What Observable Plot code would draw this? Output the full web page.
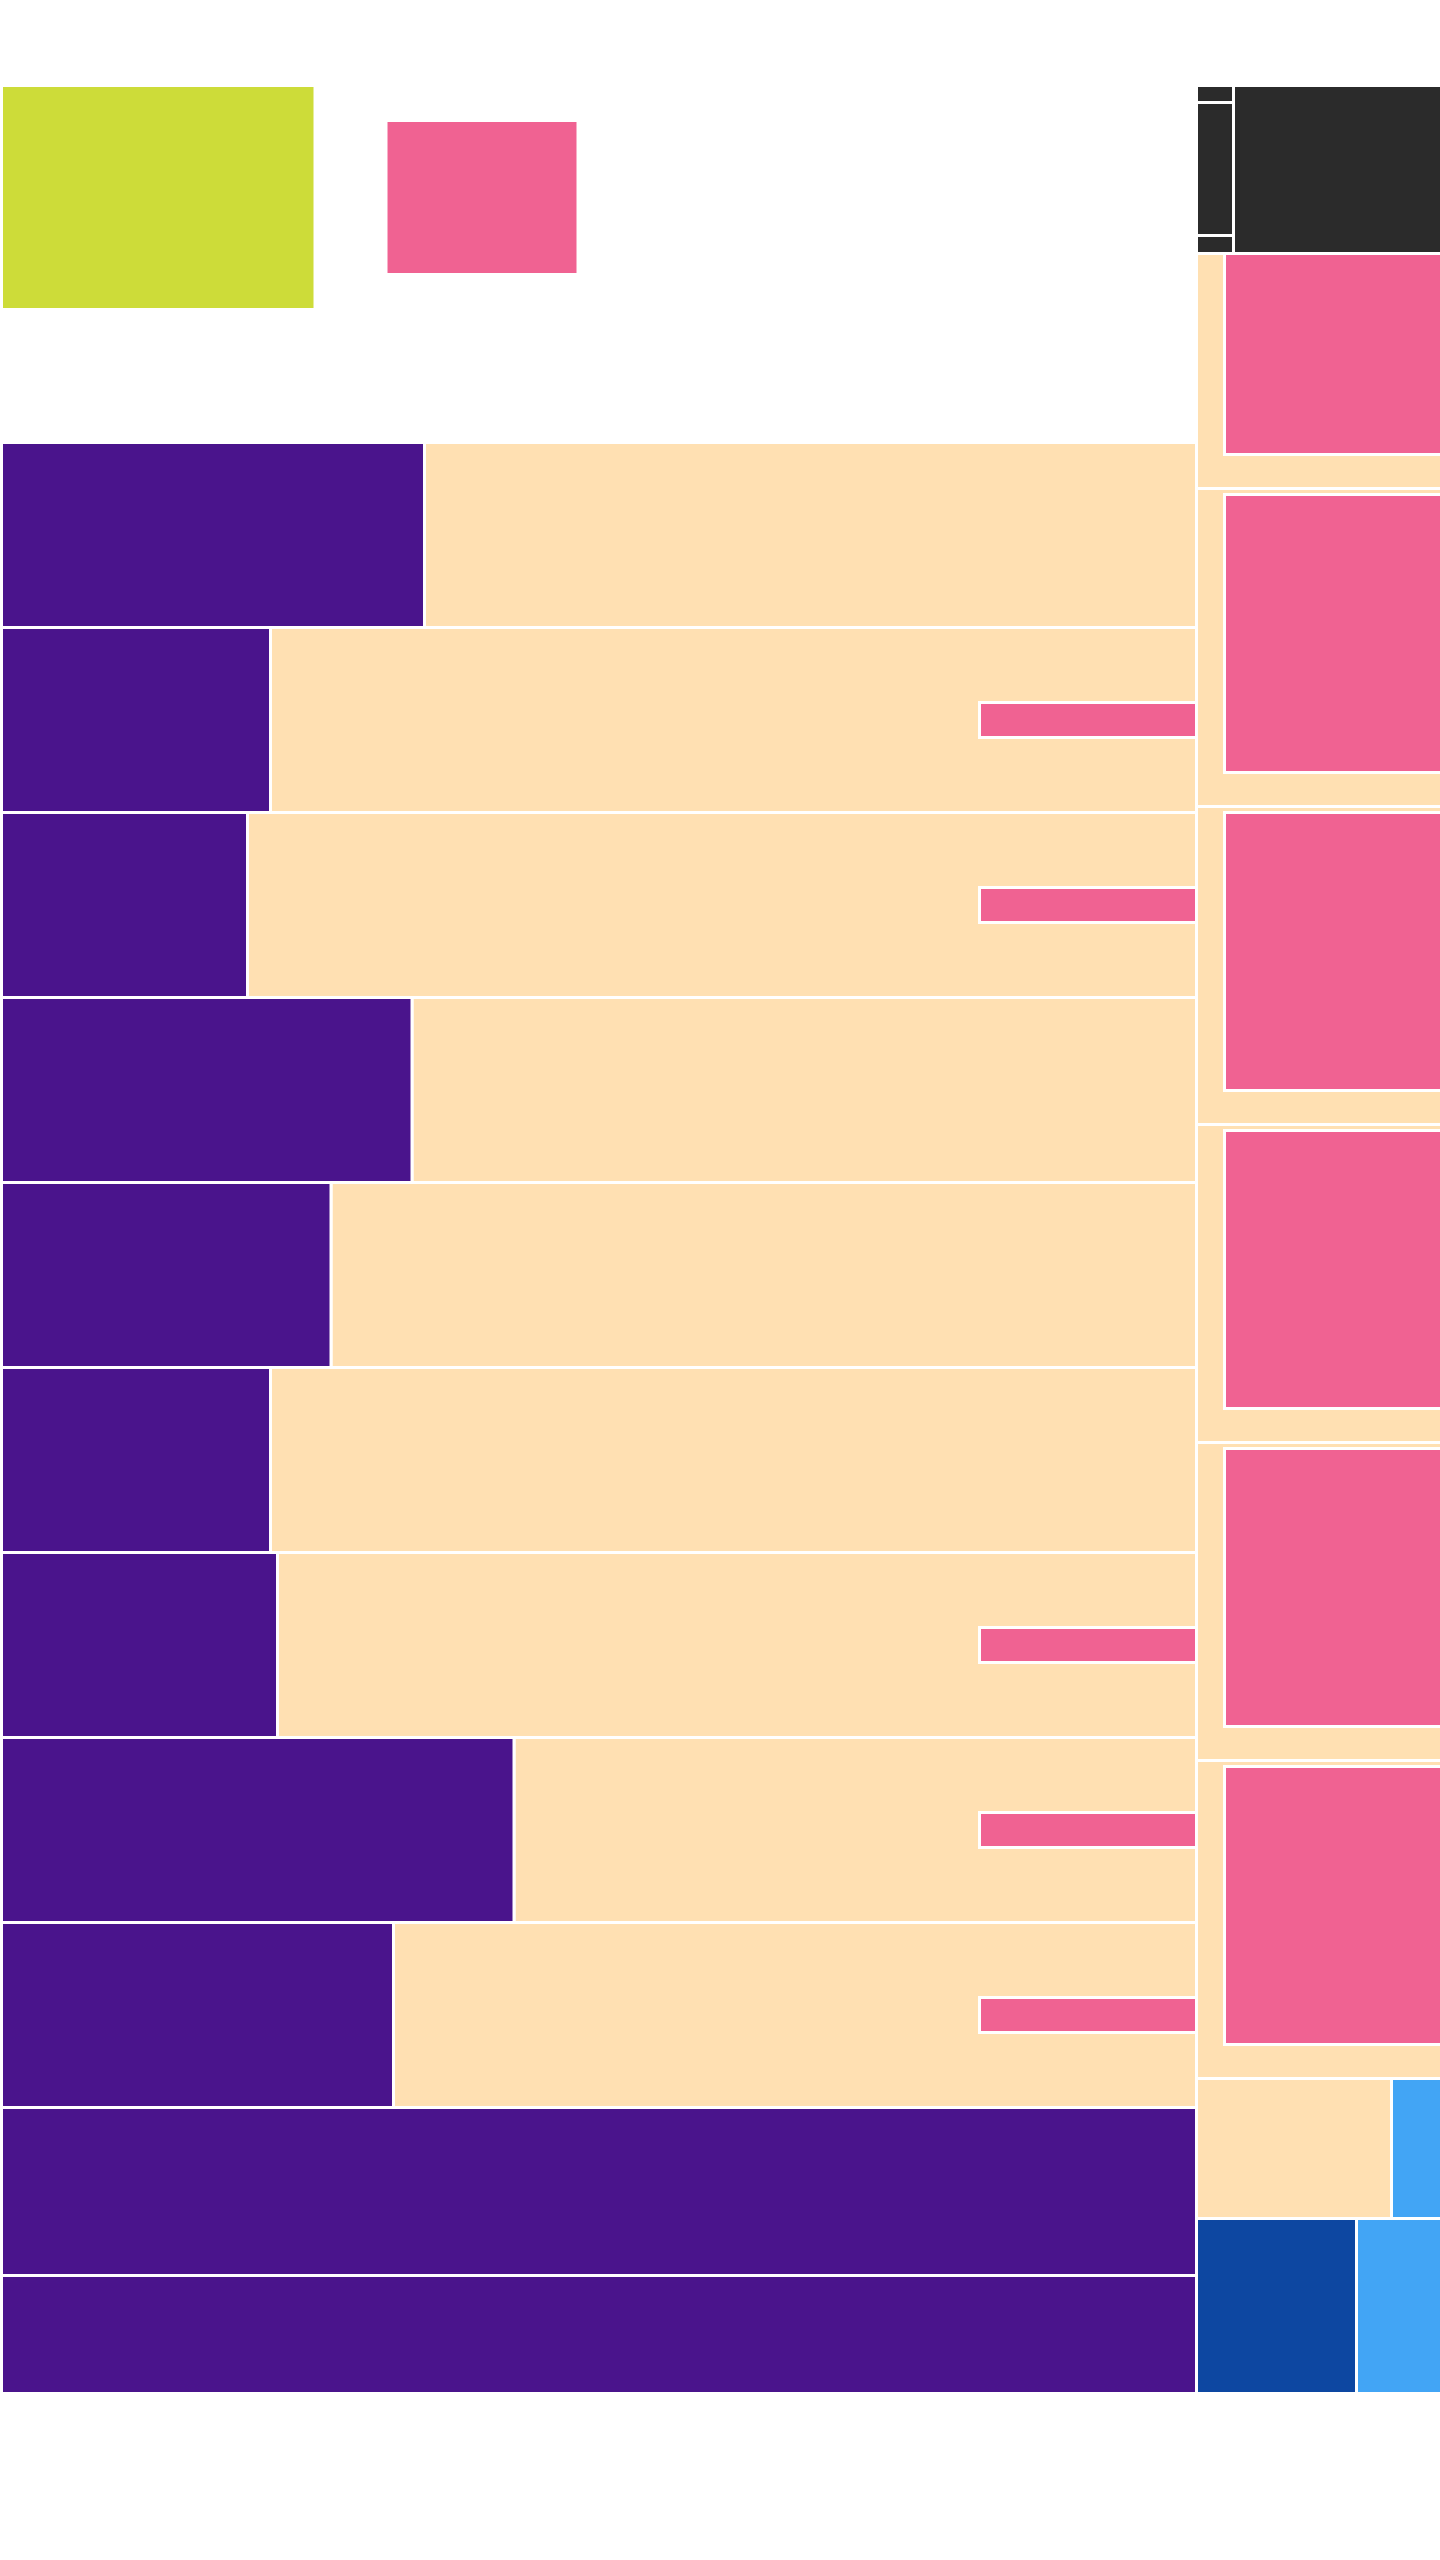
<!DOCTYPE html>
<html>
<head>
<meta charset="utf-8">
<script src="https://cdn.jsdelivr.net/npm/d3@7"></script>
<script src="https://cdn.jsdelivr.net/npm/@observablehq/plot@0.6"></script>
<style>
  html, body { margin: 0; padding: 0; background: #fff; overflow: hidden; }
  #chart svg { display: block; }
</style>
</head>
<body>
<div id="chart"></div>
<script>
// ---- data (layout units) ----
// left block: horizontal rows split into a purple part and a cream remainder
const rowBreaks = [442.5, 627.5, 812.5, 997.5, 1182.5, 1367.5, 1552.5, 1737.5, 1922.5, 2107.5, 2275.5, 2393.5];
const purpleEnds = [424.5, 270.5, 247.5, 412, 331, 270.5, 277.5, 514, 393.5, 1196.5, 1196.5];
const pinkBarRows = [1, 2, 6, 7, 8];
const leftStart = 1.5;
const leftEnd = 1196.5;
const pinkBarStart = 979.5;
const pinkBarHalf = 17.5;

// right column: cream panels each holding a pink block
const panelBreaks = [253.5, 488.5, 806.5, 1124.5, 1442.5, 1760.5, 2078.5];
const panelStart = 1196.5;
const panelPinkStart = 1224.5;
const panelPinkTopPad = [0, 6, 6, 6, 6, 6];
const panelPinkBottomPad = 34;
const rightEnd = 1443;

// top dark block
const darkSmallX = [1196.5, 1233.5];
const darkSmallY = [85.5, 102.5, 235.5, 253.5];
const darkBig = {x1: 1233.5, x2: 1443, y1: 85.5, y2: 253.5};

// top loose squares
const looseNames = ["lime", "pink"];
const looseX1 = [1.5, 386];
const looseX2 = [315, 578];
const looseY1 = [85.5, 120.5];
const looseY2 = [309.5, 274.5];

// bottom-right blues
const blueNames = ["cream", "light1", "dark", "light2"];
const blueX1 = [1196.5, 1391.5, 1196.5, 1356.5];
const blueX2 = [1391.5, 1443, 1356.5, 1443];
const blueY1 = [2078.5, 2078.5, 2218.5, 2218.5];
const blueY2 = [2218.5, 2218.5, 2393.5, 2393.5];

const colors = {
  purple: "#4A148C", cream: "#FFE0B2", pink: "#F06292", lime: "#CDDC39",
  dark: "#2B2B2B", blueDark: "#0D47A1", blueLight: "#42A5F5"
};

// ---- build rect table ----
const rects = [];
looseNames.forEach((n, i) => rects.push({x1: looseX1[i], x2: looseX2[i], y1: looseY1[i], y2: looseY2[i], fill: colors[n]}));
for (let i = 0; i < purpleEnds.length; i++) {
  const y1 = rowBreaks[i], y2 = rowBreaks[i + 1];
  if (purpleEnds[i] < leftEnd) rects.push({x1: purpleEnds[i], x2: leftEnd, y1, y2, fill: colors.cream});
  rects.push({x1: leftStart, x2: purpleEnds[i], y1, y2, fill: colors.purple});
  if (pinkBarRows.includes(i)) {
    const c = (y1 + y2) / 2;
    rects.push({x1: pinkBarStart, x2: leftEnd, y1: c - pinkBarHalf, y2: c + pinkBarHalf, fill: colors.pink});
  }
}
for (let i = 0; i < panelBreaks.length - 1; i++) {
  const y1 = panelBreaks[i], y2 = panelBreaks[i + 1];
  rects.push({x1: panelStart, x2: rightEnd, y1, y2, fill: colors.cream});
  rects.push({x1: panelPinkStart, x2: rightEnd, y1: y1 + panelPinkTopPad[i], y2: y2 - panelPinkBottomPad, fill: colors.pink});
}
for (let i = 0; i < darkSmallY.length - 1; i++) {
  rects.push({x1: darkSmallX[0], x2: darkSmallX[1], y1: darkSmallY[i], y2: darkSmallY[i + 1], fill: colors.dark});
}
rects.push({...darkBig, fill: colors.dark});
const blueFill = [colors.cream, colors.blueLight, colors.blueDark, colors.blueLight];
blueNames.forEach((n, i) => rects.push({x1: blueX1[i], x2: blueX2[i], y1: blueY1[i], y2: blueY2[i], fill: blueFill[i]}));

const chart = Plot.plot({
  width: 1440,
  height: 2560,
  margin: 0,
  x: {domain: [0, 1440], range: [0, 1440], axis: null},
  y: {domain: [0, 2560], range: [0, 2560], axis: null},
  color: {type: "identity"},
  marks: [
    Plot.rect(rects, {x1: "x1", x2: "x2", y1: "y1", y2: "y2", fill: "fill", stroke: "white", strokeWidth: 3, clip: true})
  ]
});
document.getElementById("chart").appendChild(chart);
</script>
</body>
</html>
